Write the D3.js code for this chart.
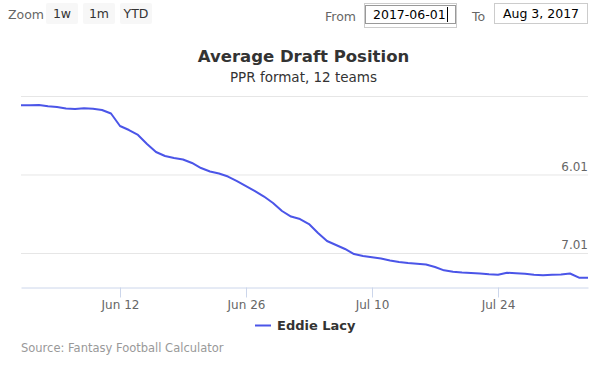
<!DOCTYPE html>
<html>
<head>
<meta charset="utf-8">
<script src="https://cdn.jsdelivr.net/npm/d3@7"></script>
<style>
  body { margin: 0; background: #fff; }
  svg { display: block; font-family: "DejaVu Sans", sans-serif; }
</style>
</head>
<body>
<div id="chart"></div>
<script>
// ADP data (overall pick number, 12-team league), one point per day from Jun 1
const startDate = "2017-06-01";
const adpValues = [
  50.42, 50.41, 50.39, 50.57, 50.68, 50.91, 50.99, 50.87, 50.96, 51.14,
  51.68, 53.59, 54.20, 54.96, 56.34, 57.56, 58.17, 58.48, 58.71, 59.24,
  60.01, 60.54, 60.85, 61.31, 62.00, 62.76, 63.53, 64.37, 65.36, 66.58,
  67.43, 67.81, 68.57, 69.95, 71.17, 71.78, 72.39, 73.16, 73.46, 73.66,
  73.85, 74.15, 74.38, 74.54, 74.66, 74.76, 75.15, 75.65, 75.88, 76.00,
  76.06, 76.14, 76.26, 76.34, 76.02, 76.11, 76.19, 76.34, 76.42, 76.34,
  76.29, 76.14, 76.78, 76.78
];
const seriesName = "Eddie Lacy";
const yTicks = [49, 61, 73];
const xTicks = ["2017-06-12", "2017-06-26", "2017-07-10", "2017-07-24"];
const zoomButtons = ["1w", "1m", "YTD"];

const W = 607, H = 368;
const margin = { left: 21, right: 19, top: 96, bottom: 81 };

const parse = d3.timeParse("%Y-%m-%d");
const t0 = parse(startDate);
const data = adpValues.map((v, i) => ({ date: d3.timeDay.offset(t0, i), value: v }));

const svg = d3.select("#chart").append("svg")
    .attr("width", W)
    .attr("height", H);

// Scales
const x = d3.scaleTime()
    .domain([t0, d3.timeDay.offset(t0, adpValues.length - 1)])
    .range([margin.left, W - margin.right]);

const y = d3.scaleLinear()
    .domain([49, 78.2]) // reversed: early picks at top
    .range([margin.top, H - margin.bottom]);

// Range selector
svg.append("text")
    .attr("x", 8).attr("y", 19)
    .attr("font-size", 12.5)
    .attr("fill", "#666")
    .text("Zoom");

const btn = svg.selectAll(".btn")
    .data(zoomButtons)
    .enter().append("g")
    .attr("transform", (d, i) => `translate(${46 + i * 37},3)`);
btn.append("rect")
    .attr("width", 32).attr("height", 21)
    .attr("rx", 2)
    .attr("fill", "#f7f7f7");
btn.append("text")
    .attr("x", 16).attr("y", 15)
    .attr("text-anchor", "middle")
    .attr("font-size", 12.5)
    .attr("fill", "#333")
    .text(d => d);

svg.append("text")
    .attr("x", 325).attr("y", 21)
    .attr("font-size", 12.5)
    .attr("fill", "#666")
    .text("From");
svg.append("rect")
    .attr("x", 364.5).attr("y", 3.5).attr("width", 92).attr("height", 24)
    .attr("fill", "none").attr("stroke", "#ccc");
svg.append("rect")
    .attr("x", 365.5).attr("y", 5.5).attr("width", 90).attr("height", 18)
    .attr("fill", "#fff").attr("stroke", "#999");
svg.append("text")
    .attr("x", 373).attr("y", 19)
    .attr("font-size", 12.5)
    .attr("fill", "#000")
    .text("2017-06-01");
svg.append("line")
    .attr("x1", 447.5).attr("x2", 447.5).attr("y1", 7).attr("y2", 22)
    .attr("stroke", "#000");

svg.append("text")
    .attr("x", 472).attr("y", 21)
    .attr("font-size", 12.5)
    .attr("fill", "#666")
    .text("To");
svg.append("rect")
    .attr("x", 494.5).attr("y", 3.5).attr("width", 93).attr("height", 20)
    .attr("fill", "#fff").attr("stroke", "#ccc");
svg.append("text")
    .attr("x", 541).attr("y", 18)
    .attr("text-anchor", "middle")
    .attr("font-size", 12.5)
    .attr("fill", "#000")
    .text("Aug 3, 2017");

// Titles
svg.append("text")
    .attr("x", W / 2).attr("y", 62)
    .attr("text-anchor", "middle")
    .attr("font-size", 16.5)
    .attr("font-weight", "bold")
    .attr("fill", "#333")
    .text("Average Draft Position");
svg.append("text")
    .attr("x", W / 2).attr("y", 82)
    .attr("text-anchor", "middle")
    .attr("font-size", 13.5)
    .attr("fill", "#333")
    .text("PPR format, 12 teams");

// Y gridlines and labels
const yAxis = d3.axisRight(y)
    .tickValues(yTicks)
    .tickSize(W - margin.left - margin.right)
    .tickFormat(d => {
        const round = Math.floor((d - 1) / 12) + 1;
        const pick = ((d - 1) % 12) + 1;
        return round + "." + String(pick).padStart(2, "0");
    });
const gy = svg.append("g")
    .attr("transform", `translate(${margin.left},0)`)
    .call(yAxis);
gy.select(".domain").remove();
gy.selectAll(".tick line").attr("stroke", "#e6e6e6");
gy.selectAll(".tick text")
    .attr("x", W - margin.left - margin.right)
    .attr("dy", -4)
    .attr("text-anchor", "end")
    .attr("font-size", 12)
    .attr("font-family", "DejaVu Sans, sans-serif")
    .attr("fill", "#666")
    .style("display", (d, i) => i === 0 ? "none" : null);

// X axis
const xAxis = d3.axisBottom(x)
    .tickValues(xTicks.map(parse))
    .tickSize(10)
    .tickSizeOuter(0)
    .tickFormat(d3.timeFormat("%b %-d"));
const gx = svg.append("g")
    .attr("transform", `translate(0,${H - margin.bottom + 0.5})`)
    .call(xAxis);
gx.select(".domain").attr("stroke", "#ccd6eb");
gx.selectAll(".tick line").attr("stroke", "#ccd6eb");
gx.selectAll(".tick text")
    .attr("y", 13)
    .attr("font-size", 12)
    .attr("font-family", "DejaVu Sans, sans-serif")
    .attr("fill", "#666");

// Series line
const line = d3.line()
    .x(d => x(d.date))
    .y(d => y(d.value));
svg.append("path")
    .datum(data)
    .attr("fill", "none")
    .attr("stroke", "#4b55e8")
    .attr("stroke-width", 2)
    .attr("stroke-linejoin", "round")
    .attr("d", line);

// Legend
svg.append("line")
    .attr("x1", 255).attr("x2", 271)
    .attr("y1", 325.5).attr("y2", 325.5)
    .attr("stroke", "#4b55e8")
    .attr("stroke-width", 2);
svg.append("text")
    .attr("x", 277).attr("y", 330)
    .attr("font-size", 13)
    .attr("font-weight", "bold")
    .attr("fill", "#333")
    .text(seriesName);

// Credits
svg.append("text")
    .attr("x", 21).attr("y", 352)
    .attr("font-size", 11.5)
    .attr("fill", "#999")
    .text("Source: Fantasy Football Calculator");
</script>
</body>
</html>
